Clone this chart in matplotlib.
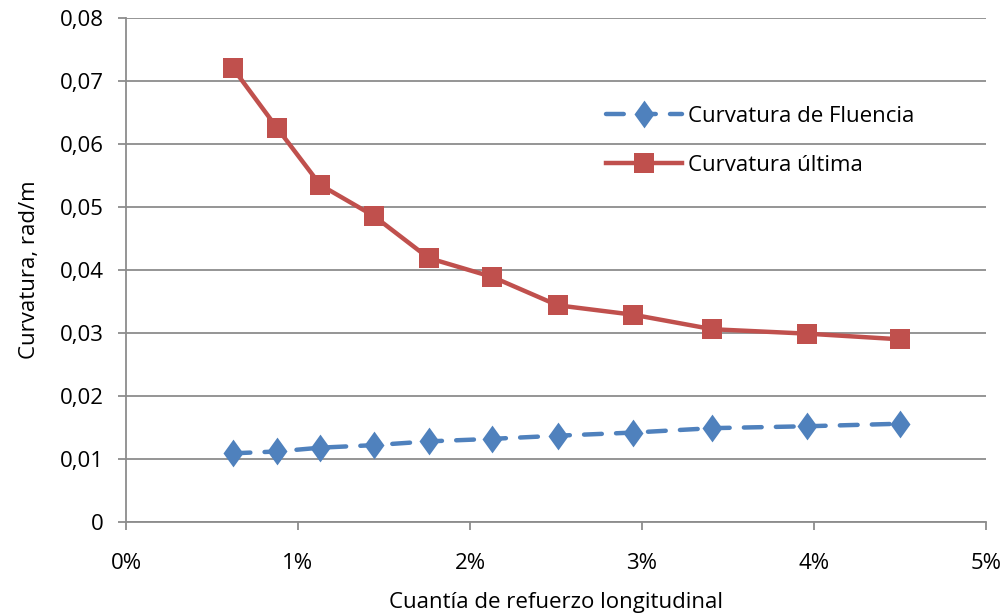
import numpy as np
import matplotlib.pyplot as plt
from matplotlib.ticker import FuncFormatter

# cuantia de refuerzo (%) and curvaturas (rad/m)
cuantia = [0.62, 0.88, 1.13, 1.44, 1.76, 2.13, 2.51, 2.95, 3.41, 3.96, 4.50]
fluencia = [0.0109, 0.0112, 0.0118, 0.0122, 0.0128, 0.0132, 0.0137, 0.0142, 0.0149, 0.0152, 0.0156]
ultima = [0.0721, 0.0625, 0.0535, 0.0486, 0.0419, 0.0389, 0.0344, 0.0329, 0.0306, 0.0299, 0.0290]

plt.rcParams['font.family'] = ['Open Sans', 'DejaVu Sans']

fig = plt.figure(figsize=(10.02, 6.15), dpi=100)
ax = fig.add_axes([0.1257, 0.1512, 0.8583, 0.8195])

blue = '#4F81BD'
red = '#C0504D'
grid = '#8C8C8C'
fs = 16

# excel-like diamond, a bit taller than wide
diamond = [(0, 1), (0.72, 0), (0, -1), (-0.72, 0), (0, 1)]

ax.plot(cuantia, fluencia, color=blue, lw=3.2, linestyle=(0, (4, 3.2)),
        dash_capstyle='round', marker=diamond, markersize=20, markeredgewidth=0,
        label='Curvatura de Fluencia', zorder=3)
ax.plot(cuantia, ultima, color=red, lw=3.2, marker='s', markersize=14,
        markeredgewidth=0, label='Curvatura última', zorder=3)

ax.set_xlim(0, 5)
ax.set_ylim(0, 0.08)
ax.set_xticks(np.arange(0, 6, 1))
ax.set_yticks(np.arange(0, 0.081, 0.01))
ax.xaxis.set_major_formatter(FuncFormatter(lambda v, p: '%d%%' % round(v)))
ax.yaxis.set_major_formatter(FuncFormatter(
    lambda v, p: '0' if abs(v) < 1e-9 else ('%.2f' % v).replace('.', ',')))

ax.grid(axis='y', color=grid, lw=1.3)
ax.set_axisbelow(True)
for s in ['top', 'right']:
    ax.spines[s].set_visible(False)
for s in ['left', 'bottom']:
    ax.spines[s].set_color(grid)
    ax.spines[s].set_linewidth(1.3)
ax.tick_params(axis='both', colors=grid, length=6, width=1.3, labelsize=fs,
               labelcolor='black')
ax.tick_params(axis='x', pad=16)
ax.tick_params(axis='y', pad=10)

ax.set_xlabel('Cuantía de refuerzo longitudinal', fontsize=fs, labelpad=13)
ax.set_ylabel('Curvatura, rad/m', fontsize=fs, labelpad=14)

ax.legend(loc='upper left', bbox_to_anchor=(0.535, 0.865), frameon=False,
          fontsize=fs, handlelength=3.4, handletextpad=0.3, labelspacing=1.25)

fig.savefig('out.png', dpi=100)
